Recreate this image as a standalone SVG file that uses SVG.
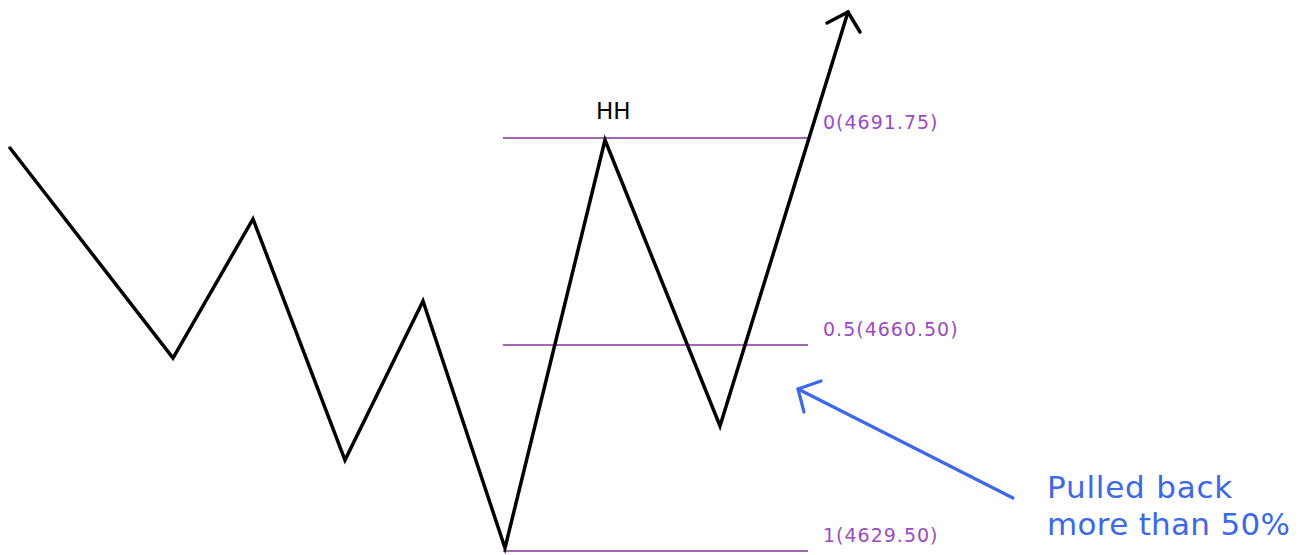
<svg xmlns="http://www.w3.org/2000/svg" width="1309" height="555" viewBox="0 0 1309 555">
<style>
.lvl{stroke:#8a2f9e;stroke-width:1.6;fill:none}
.lbl{font-family:"DejaVu Sans",Verdana,sans-serif;font-size:19px;letter-spacing:1px;fill:#9a4cc0}
.price{stroke:#000;stroke-width:3.5;fill:none;stroke-linejoin:miter;stroke-linecap:round}
.note{stroke:#3d68e6;stroke-width:3.2;fill:none;stroke-linecap:round;stroke-linejoin:round}
.notetxt{font-family:"DejaVu Sans",Verdana,sans-serif;font-size:31px;fill:#3d68e6}
</style>
<rect width="1309" height="555" fill="#fff"/>
<g id="levels">
<line class="lvl" x1="503" y1="138" x2="808" y2="138"/>
<line class="lvl" x1="503" y1="345" x2="808" y2="345"/>
<line class="lvl" x1="503" y1="551" x2="808" y2="551"/>
<text class="lbl" x="823" y="129">0(4691.75)</text>
<text class="lbl" x="823" y="336">0.5(4660.50)</text>
<text class="lbl" x="823" y="542">1(4629.50)</text>
</g>
<g id="price">
<polyline class="price" points="10,148 173,358 253,219 345,460 423,301 505,548 605,140 720,426 848,12"/>
<polyline class="price" points="827,23 848,12 860,32"/>
<text x="596" y="119" font-family="DejaVu Sans,Verdana,sans-serif" font-size="23" fill="#000">HH</text>
</g>
<g id="note">
<line class="note" x1="1013" y1="498" x2="798" y2="389"/>
<polyline class="note" points="821,381 798,389 804,412"/>
<text class="notetxt" x="1047" y="498" letter-spacing="0.8">Pulled back</text>
<text class="notetxt" x="1047" y="535" letter-spacing="0.3">more than 50%</text>
</g>
</svg>
